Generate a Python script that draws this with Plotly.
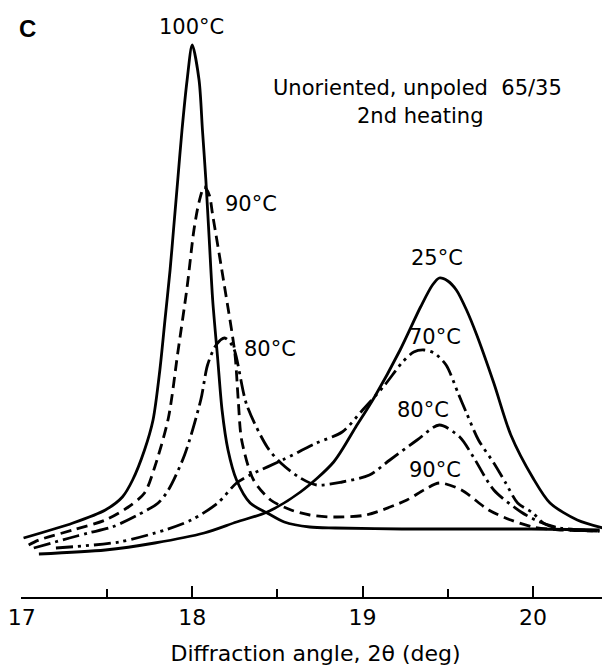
import plotly.graph_objects as go

# Diffraction angle 2θ (deg) and intensity (arbitrary units)
x_25 = [17.10, 17.49, 17.78, 18.07, 18.26, 18.44, 18.635, 18.83, 18.96, 19.07, 19.22, 19.34, 19.41, 19.45, 19.50, 19.55, 19.61, 19.67, 19.77, 19.87, 20.00, 20.10, 20.26, 20.41]
y_25 = [43, 47, 54, 64, 75, 85, 105, 135, 170, 200, 247, 290, 312, 319, 316, 307, 287, 262, 214, 162, 119, 94, 77, 69]

x_70 = [17.20, 17.57, 17.84, 17.995, 18.15, 18.26, 18.34, 18.53, 18.73, 18.88, 19.00, 19.13, 19.23, 19.30, 19.36, 19.42, 19.49, 19.56, 19.61, 19.68, 19.77, 19.84, 19.91, 20.00, 20.06, 20.16, 20.39]
y_70 = [49, 55, 67, 77, 94, 114, 122, 137, 154, 165, 187, 212, 234, 245, 247, 244, 232, 204, 184, 157, 134, 114, 94, 84, 74, 68, 66]

x_80 = [17.07, 17.28, 17.39, 17.53, 17.68, 17.80, 17.86, 17.955, 18.05, 18.09, 18.14, 18.19, 18.24, 18.32, 18.44, 18.52, 18.635, 18.73, 18.88, 19.04, 19.16, 19.32, 19.45, 19.57, 19.65, 19.77, 19.93, 20.04, 20.16, 20.39]
y_80 = [49, 59, 64, 70, 82, 94, 107, 142, 197, 232, 252, 259, 250, 192, 150, 134, 119, 112, 115, 122, 137, 157, 172, 160, 140, 107, 85, 75, 69, 66]

x_90 = [17.04, 17.10, 17.30, 17.49, 17.625, 17.72, 17.78, 17.86, 17.915, 17.97, 18.01, 18.04, 18.07, 18.10, 18.12, 18.19, 18.25, 18.27, 18.29, 18.36, 18.46, 18.58, 18.69, 18.83, 19.02, 19.26, 19.36, 19.45, 19.58, 19.74, 19.87, 20.00, 20.16, 20.39]
y_90 = [52, 57, 67, 77, 90, 104, 130, 179, 244, 310, 367, 395, 410, 402, 382, 310, 244, 197, 157, 117, 97, 87, 82, 80, 82, 97, 107, 114, 107, 87, 77, 70, 67, 66]

x_100 = [17.01, 17.30, 17.49, 17.59, 17.65, 17.72, 17.77, 17.81, 17.84, 17.87, 17.89, 17.915, 17.94, 17.97, 18.00, 18.04, 18.06, 18.08, 18.10, 18.12, 18.15, 18.175, 18.21, 18.26, 18.34, 18.44, 18.54, 18.69, 18.84, 19.23, 19.99, 20.39]
y_100 = [59, 74, 87, 100, 117, 147, 177, 227, 277, 327, 367, 417, 467, 517, 552, 517, 467, 417, 357, 297, 237, 187, 147, 117, 94, 84, 75, 70, 69, 68, 68, 67]

tick_vals = [17, 18, 19, 20]
tick_text = ["17", "18", "19", "20"]

FONT = "DejaVu Sans"
LW = 2.8

fig = go.Figure()
series = [
    (x_100, y_100, "solid", "100°C"),
    (x_90, y_90, "11px,6px", "90°C"),
    (x_80, y_80, "17px,5px,3px,5px", "80°C"),
    (x_70, y_70, "17px,5px,3px,5px,3px,5px", "70°C"),
    (x_25, y_25, "solid", "25°C"),
]
for xs, ys, dash, name in series:
    fig.add_trace(go.Scatter(x=xs, y=ys, mode="lines", name=name,
                             line=dict(color="black", width=LW, dash=dash, shape="spline", smoothing=0.8),
                             showlegend=False, hoverinfo="skip", cliponaxis=False))

labels = [
    (17.998, 570, "100°C"),
    (18.344, 393, "90°C"),
    (18.454, 248, "80°C"),
    (19.435, 339, "25°C"),
    (19.424, 260, "70°C"),
    (19.355, 187, "80°C"),
    (19.424, 127, "90°C"),
]
for x, y, t in labels:
    fig.add_annotation(x=x, y=y, xref="x", yref="y", text=t, showarrow=False,
                       font=dict(family=FONT, size=21, color="black"))
fig.add_annotation(x=19.32, y=509, xref="x", yref="y", text="Unoriented, unpoled  65/35",
                   showarrow=False, font=dict(family=FONT, size=21, color="black"))
fig.add_annotation(x=19.337, y=481, xref="x", yref="y", text="2nd heating",
                   showarrow=False, font=dict(family=FONT, size=21, color="black"))
fig.add_annotation(x=17.035, y=569, xref="x", yref="y", text="<b>C</b>", showarrow=False,
                   font=dict(family="Liberation Sans", size=24, color="black"))

fig.update_layout(
    width=610, height=671,
    margin=dict(l=7, r=8, t=0, b=82),
    paper_bgcolor="white", plot_bgcolor="white",
    font=dict(family=FONT, color="black"),
    xaxis=dict(range=[16.995, 20.452], showgrid=False, zeroline=False,
               showline=True, linecolor="black", linewidth=1.5,
               ticks="inside", ticklen=11, tickwidth=1.5, tickcolor="black",
               tickvals=tick_vals, ticktext=tick_text, ticklabeloverflow="allow",
               tickfont=dict(family=FONT, size=22, color="black"),
               minor=dict(dtick=0.5, tick0=17, ticks="inside", ticklen=8, tickwidth=1.5, tickcolor="black", showgrid=False),
               title=dict(text="Diffraction angle, 2θ (deg)", font=dict(family=FONT, size=22, color="black"), standoff=16)),
    yaxis=dict(range=[0, 589], visible=False),
)

fig.write_html("out.html")
